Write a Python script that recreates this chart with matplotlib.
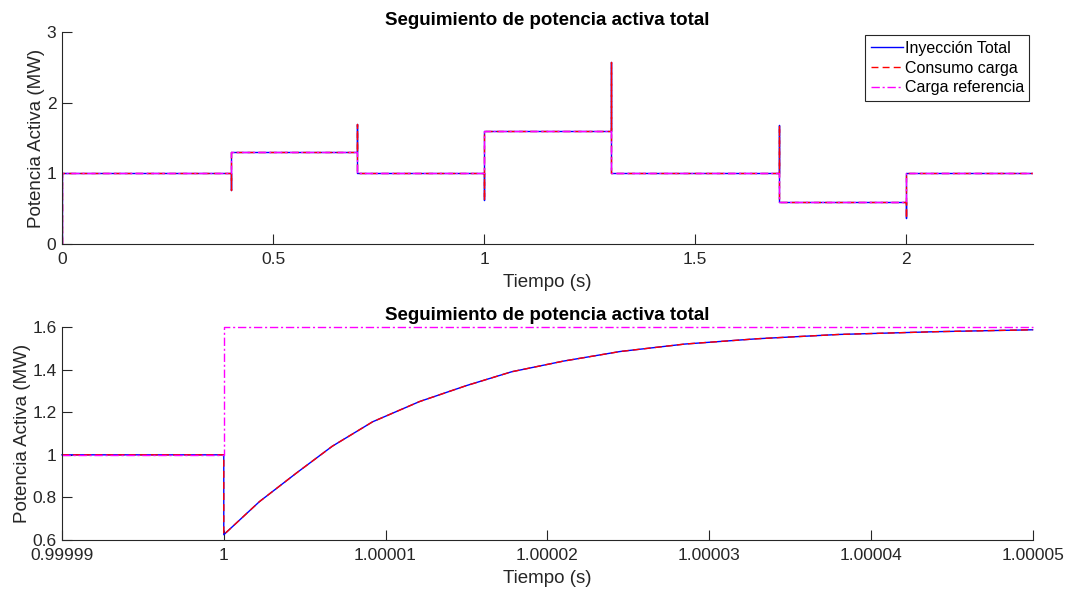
import numpy as np
import matplotlib
matplotlib.use("Agg")
import matplotlib.pyplot as plt
from matplotlib.ticker import FuncFormatter

plt.rcParams['font.family'] = ['Liberation Sans', 'DejaVu Sans']

# top plot: load steps (s), levels (MW) and the transient peak at each step
t_switch = [0.4, 0.7, 1.0, 1.3, 1.7, 2.0]
levels = [1.0, 1.3, 1.0, 1.6, 1.0, 0.6, 1.0]
peaks = [0.77, 1.70, 0.62, 2.57, 1.68, 0.37]
t_end = 2.3

# bottom plot: zoom around the step at t = 1 s (offsets in units of 1e-5 s)
zoom_off = [0, 0.22, 0.45, 0.67, 0.92, 1.21, 1.50, 1.78, 2.10, 2.45, 2.85, 3.30, 3.80, 4.40, 5.0]
zoom_p = [0.625, 0.78, 0.915, 1.04, 1.155, 1.25, 1.325, 1.39, 1.44, 1.485, 1.52, 1.545, 1.565, 1.578, 1.587]
zoom_before = 1.0
zoom_ref = 1.6
zoom_start = 0.99999
zoom_ticks = [0.99999, 1.0, 1.00001, 1.00002, 1.00003, 1.00004, 1.00005]

labels = ["Inyección Total", "Consumo carga", "Carga referencia"]


def build_series(with_peaks):
    t = [0.0, 0.0]
    p = [0.0, levels[0]]
    for i, ts in enumerate(t_switch):
        if with_peaks:
            t += [ts, ts, ts]
            p += [levels[i], peaks[i], levels[i + 1]]
        else:
            t += [ts, ts]
            p += [levels[i], levels[i + 1]]
    t.append(t_end)
    p.append(levels[-1])
    return t, p


t_meas, p_meas = build_series(True)
t_ref, p_ref = build_series(False)

tz = [zoom_start, 1.0] + [1.0 + o * 1e-5 for o in zoom_off]
pz = [zoom_before, zoom_before] + zoom_p
tz_ref = [zoom_start, 1.0, 1.0, tz[-1]]
pz_ref = [zoom_before, zoom_before, zoom_ref, zoom_ref]

fig = plt.figure(figsize=(10.69, 5.95), dpi=100)
ax1 = fig.add_axes([0.058, 0.590, 0.908, 0.356])
ax2 = fig.add_axes([0.058, 0.0924, 0.908, 0.358])

axcol = '#262626'
blue, red, mag = '#0000ff', '#ff0000', '#ff00ff'


def style(ax):
    for s in ['top', 'right']:
        ax.spines[s].set_visible(False)
    for s in ['left', 'bottom']:
        ax.spines[s].set_color(axcol)
        ax.spines[s].set_linewidth(0.8)
    ax.tick_params(direction='in', length=7, width=0.8, colors=axcol, labelsize=12.5)
    ax.tick_params(axis='x', pad=6)
    ax.tick_params(axis='y', pad=4)
    ax.set_xlabel("Tiempo (s)", fontsize=13.5, color=axcol, labelpad=5)
    ax.set_ylabel("Potencia Activa (MW)", fontsize=13.5, color=axcol, labelpad=1)
    ax.set_title("Seguimiento de potencia activa total", fontsize=13.5,
                 fontweight='bold', pad=5)


ax1.plot(t_meas, p_meas, color=blue, lw=1.0, label=labels[0])
ax1.plot(t_meas, p_meas, color=red, lw=1.0, ls=(0, (5, 3)), label=labels[1])
ax1.plot(t_ref, p_ref, color=mag, lw=1.0, ls=(0, (6, 2, 1.5, 2)), label=labels[2])
ax1.set_xlim(0, t_end)
ax1.set_ylim(0, 3)
ax1.set_xticks([0, 0.5, 1, 1.5, 2])
ax1.set_yticks([0, 1, 2, 3])
ax1.xaxis.set_major_formatter(FuncFormatter(lambda v, pos: f"{v:g}"))
style(ax1)
leg = ax1.legend(loc='upper right', fontsize=11.5, frameon=True, fancybox=False,
                 framealpha=1, edgecolor=axcol, handlelength=2.0, handletextpad=0.1,
                 labelspacing=0.3, borderpad=0.35, borderaxespad=0.2)
leg.get_frame().set_linewidth(0.8)

ax2.plot(tz, pz, color=blue, lw=1.0, clip_on=False)
ax2.plot(tz, pz, color=red, lw=1.0, ls=(0, (5, 3)), clip_on=False)
ax2.plot(tz_ref, pz_ref, color=mag, lw=1.0, ls=(0, (6, 2, 1.5, 2)), clip_on=False)
ax2.set_xlim(zoom_start, zoom_ticks[-1])
ax2.set_ylim(0.6, 1.6)
ax2.set_xticks(zoom_ticks)
ax2.set_yticks([0.6, 0.8, 1.0, 1.2, 1.4, 1.6])
ax2.xaxis.set_major_formatter(FuncFormatter(lambda v, pos: f"{v:.6g}"))
ax2.yaxis.set_major_formatter(FuncFormatter(lambda v, pos: f"{v:g}"))
style(ax2)

fig.savefig("out.png", dpi=100)
